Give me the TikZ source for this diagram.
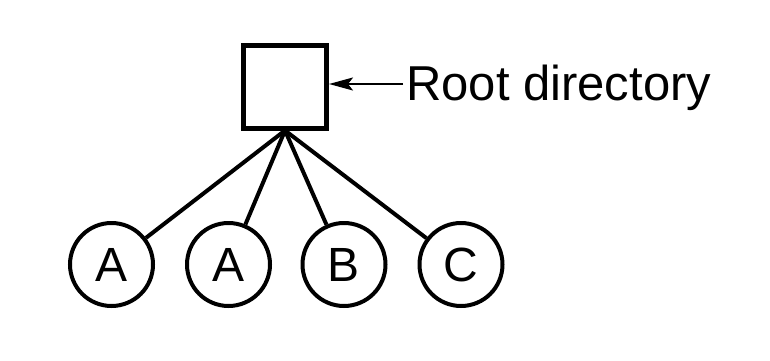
\documentclass[tikz,border=0pt]{standalone}
\usepackage{fontspec}
\setmainfont{Liberation Sans}
\usetikzlibrary{arrows.meta}
\begin{document}
\begin{tikzpicture}[x=1pt,y=1pt,
  dirbox/.style={draw, rectangle, line width=5pt, minimum size=83pt, inner sep=0pt},
  filenode/.style={draw, circle, line width=4pt, minimum size=83pt, inner sep=0pt,
    font=\fontsize{48}{54}\selectfont},
  link/.style={line width=4pt},
  pointer/.style={line width=2pt, -{Stealth[length=24pt,width=13pt,inset=5pt]}}]
\useasboundingbox (0,0) rectangle (770,360);
\node[dirbox] (root) at (285,273.5) {};
\node[filenode] (a1) at (111.5,95.5) {A};
\node[filenode] (a2) at (228.5,95.5) {A};
\node[filenode] (b) at (344,95.5) {B};
\node[filenode] (c) at (461,95.5) {C};
\node[anchor=base west, inner sep=0pt, font=\fontsize{49}{55}\selectfont] (lab) at (406,259.3) {Root directory};
\coordinate (arr) at (403,276);
\draw[pointer] (arr) -- (arr -| root.east);
\foreach \n in {a1,a2,b,c} \draw[link] (root.south) -- (\n);
\end{tikzpicture}
\end{document}
